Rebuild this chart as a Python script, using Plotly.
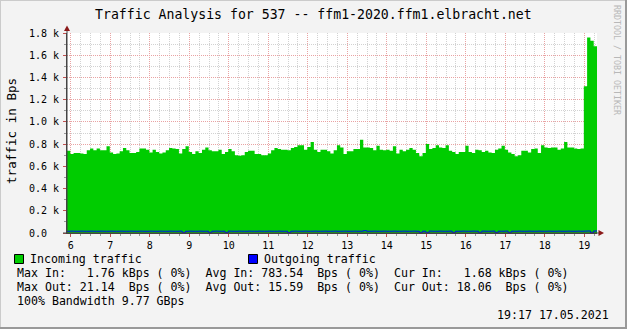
import plotly.graph_objects as go

# ---------------- data ----------------
START_HOUR = 5.904          # left edge of the graph (hours of day)
STEP_HOURS = 5 / 60         # 5-minute samples

incoming_kBps = [
    0.74, 0.71, 0.72, 0.72, 0.715, 0.71, 0.745, 0.76, 0.745, 0.76,
    0.745, 0.745, 0.78, 0.725, 0.71, 0.715, 0.735, 0.765, 0.745, 0.72,
    0.72, 0.73, 0.76, 0.76, 0.75, 0.725, 0.75, 0.73, 0.715, 0.725,
    0.745, 0.765, 0.76, 0.755, 0.715, 0.755, 0.78, 0.73, 0.71, 0.735,
    0.72, 0.75, 0.77, 0.745, 0.735, 0.735, 0.75, 0.71, 0.73, 0.755,
    0.735, 0.70, 0.695, 0.70, 0.73, 0.74, 0.74, 0.71, 0.71, 0.70,
    0.70, 0.715, 0.745, 0.765, 0.755, 0.75, 0.75, 0.745, 0.765, 0.775,
    0.79, 0.79, 0.75, 0.775, 0.82, 0.75, 0.73, 0.75, 0.75, 0.735,
    0.715, 0.745, 0.79, 0.77, 0.71, 0.735, 0.735, 0.755, 0.755, 0.84,
    0.77, 0.77, 0.765, 0.745, 0.785, 0.75, 0.745, 0.75, 0.74, 0.78,
    0.715, 0.75, 0.735, 0.75, 0.765, 0.75, 0.72, 0.69, 0.72, 0.80,
    0.755, 0.765, 0.79, 0.77, 0.765, 0.79, 0.74, 0.73, 0.71, 0.73,
    0.73, 0.785, 0.73, 0.72, 0.75, 0.745, 0.73, 0.74, 0.725, 0.72,
    0.75, 0.76, 0.785, 0.75, 0.725, 0.71, 0.69, 0.70, 0.74, 0.74,
    0.725, 0.755, 0.76, 0.72, 0.79, 0.77, 0.765, 0.77, 0.77, 0.75,
    0.76, 0.82, 0.77, 0.77, 0.76, 0.755, 0.76, 1.32, 1.76, 1.73,
    1.68,
]

outgoing_Bps = [
    16, 17, 16, 16, 17, 16, 16, 17, 16, 16,
    17, 16, 16, 17, 16, 16, 17, 16, 16, 17,
    16, 16, 17, 16, 16, 17, 16, 16, 17, 16,
    16, 17, 16, 16, 17, 5, 16, 17, 16, 16,
    17, 16, 16, 5, 16, 17, 16, 16, 5, 17,
    16, 16, 17, 16, 16, 17, 16, 16, 17, 16,
    16, 17, 16, 16, 17, 16, 16, 5, 16, 17,
    16, 16, 17, 16, 16, 17, 16, 16, 17, 16,
    16, 17, 16, 16, 17, 16, 16, 17, 16, 16,
    21, 16, 16, 17, 16, 16, 17, 16, 16, 17,
    16, 16, 17, 16, 16, 17, 16, 5, 16, 5,
    17, 16, 16, 17, 16, 16, 17, 5, 16, 16,
    17, 16, 16, 17, 16, 5, 17, 16, 16, 17,
    5, 16, 16, 17, 5, 16, 16, 17, 16, 16,
    17, 16, 16, 17, 16, 16, 17, 16, 16, 17,
    16, 16, 17, 16, 16, 17, 16, 17, 18, 5,
    18.06,
]

hour_ticks = list(range(6, 20))
hour_labels = [str(h) for h in hour_ticks]
y_ticks = [0.0, 0.2, 0.4, 0.6, 0.8, 1.0, 1.2, 1.4, 1.6, 1.8]
y_labels = ["0.0\u00a0\u00a0", "0.2 k", "0.4 k", "0.6 k", "0.8 k",
            "1.0 k", "1.2 k", "1.4 k", "1.6 k", "1.8 k"]

title_text = "Traffic Analysis for 537 -- ffm1-2020.ffm1.elbracht.net"
y_title = "traffic in Bps"
legend_in = "Incoming traffic"
legend_out = "Outgoing traffic"
stat_lines = [
    "Max In:   1.76 kBps ( 0%)  Avg In: 783.54  Bps ( 0%)  Cur In:   1.68 kBps ( 0%)",
    "Max Out: 21.14  Bps ( 0%)  Avg Out: 15.59  Bps ( 0%)  Cur Out: 18.06  Bps ( 0%)",
    "100% Bandwidth 9.77 GBps",
]
timestamp = "19:17 17.05.2021"
watermark = "RRDTOOL / TOBI OETIKER"

# ---------------- figure ----------------
W, H = 627, 329
L, R, T, B = 67, 30, 33, 96
PW, PH = W - L - R, H - T - B
MONO = "DejaVu Sans Mono"


def px(x):
    return (x - L) / PW


def py(y):
    return (H - B - y) / PH


n = len(incoming_kBps)
times = [START_HOUR + i * STEP_HOURS for i in range(n + 1)]
inc = incoming_kBps + [incoming_kBps[-1]]
out = [v / 1000 for v in outgoing_Bps] + [outgoing_Bps[-1] / 1000]

fig = go.Figure()
fig.add_trace(go.Scatter(
    x=times, y=inc, mode="lines", line=dict(width=0, shape="hv", color="#00CC00"),
    fill="tozeroy", fillcolor="#00CC00", showlegend=False, hoverinfo="skip"))
fig.add_trace(go.Scatter(
    x=times, y=out, mode="lines", line=dict(width=1, shape="hv", color="#0000FF"),
    showlegend=False, hoverinfo="skip"))

MAJOR_GRID = "#e9a3a3"
MINOR_GRID = "#d2d2d2"

fig.update_xaxes(
    range=[START_HOUR, START_HOUR + n * STEP_HOURS],
    tickmode="array", tickvals=hour_ticks, ticktext=hour_labels,
    showgrid=True, gridcolor=MAJOR_GRID, griddash="1px,1px", gridwidth=1,
    ticks="outside", ticklen=3, tickcolor="#c05050", tickwidth=1,
    minor=dict(tick0=6, dtick=0.25, showgrid=True, gridcolor=MINOR_GRID,
               griddash="1px,1px", ticks="outside", ticklen=2, tickcolor="#999999"),
    showline=True, linecolor="#444444", linewidth=1,
    zeroline=False, tickfont=dict(family=MONO, size=10, color="#000"),
    fixedrange=True,
)
fig.update_yaxes(
    range=[0, 1.8],
    tickmode="array", tickvals=y_ticks, ticktext=y_labels,
    showgrid=True, gridcolor=MAJOR_GRID, griddash="1px,1px", gridwidth=1,
    ticks="outside", ticklen=3, tickcolor="#c05050", tickwidth=1,
    minor=dict(tick0=0, dtick=0.1, showgrid=True, gridcolor=MINOR_GRID,
               griddash="1px,1px", ticks="outside", ticklen=2, tickcolor="#999999"),
    showline=True, linecolor="#444444", linewidth=1,
    zeroline=False, tickfont=dict(family=MONO, size=10, color="#000"),
    ticklabelstandoff=2,
    fixedrange=True,
)

shapes = []
# frame of the image
shapes.append(dict(type="line", xref="paper", yref="paper", x0=px(0), x1=px(W), y0=py(0.5), y1=py(0.5),
                   line=dict(color="#cbcbcb", width=1)))
shapes.append(dict(type="line", xref="paper", yref="paper", x0=px(0.5), x1=px(0.5), y0=py(0), y1=py(H),
                   line=dict(color="#cbcbcb", width=1)))
shapes.append(dict(type="line", xref="paper", yref="paper", x0=px(0), x1=px(W), y0=py(H - 1), y1=py(H - 1),
                   line=dict(color="#999999", width=2)))
shapes.append(dict(type="line", xref="paper", yref="paper", x0=px(W - 1), x1=px(W - 1), y0=py(0), y1=py(H),
                   line=dict(color="#999999", width=2)))
# axis extensions and arrows
shapes.append(dict(type="line", xref="paper", yref="paper", x0=px(L), x1=px(L), y0=py(H - B), y1=py(30),
                   line=dict(color="#444444", width=1)))
shapes.append(dict(type="line", xref="paper", yref="paper", x0=px(63), x1=px(600), y0=py(H - B), y1=py(H - B),
                   line=dict(color="#444444", width=1)))
shapes.append(dict(type="path", xref="paper", yref="paper",
                   path=f"M {px(L-3)},{py(31)} L {px(L+3)},{py(31)} L {px(L)},{py(25.5)} Z",
                   fillcolor="#8b1a1a", line=dict(width=0)))
shapes.append(dict(type="path", xref="paper", yref="paper",
                   path=f"M {px(598.5)},{py(230)} L {px(598.5)},{py(236)} L {px(604)},{py(233)} Z",
                   fillcolor="#8b1a1a", line=dict(width=0)))
# legend keys
shapes.append(dict(type="rect", xref="paper", yref="paper", x0=px(14.5), x1=px(23.5), y0=py(254.5), y1=py(263.5),
                   fillcolor="#00CC00", line=dict(color="#000", width=1)))
shapes.append(dict(type="rect", xref="paper", yref="paper", x0=px(248.5), x1=px(257.5), y0=py(254.5), y1=py(263.5),
                   fillcolor="#0000FF", line=dict(color="#000", width=1)))

ann = []


def text(x, y, s, size=11.6, xanchor="left", color="#000", angle=0):
    ann.append(dict(x=px(x), y=py(y), xref="paper", yref="paper", text=s, showarrow=False,
                    xanchor=xanchor, yanchor="middle", textangle=angle, borderpad=0,
                    font=dict(family=MONO, size=size, color=color)))


text(313, 14, title_text, size=13.2, xanchor="center")
text(11, 131, y_title, size=12.6, xanchor="center", angle=-90)
text(617, 60, watermark, size=8.3, xanchor="center", color="#b8b8b8", angle=90)
text(29, 259, legend_in)
text(263, 259, legend_out)
text(16, 273, stat_lines[0])
text(16, 287, stat_lines[1])
text(16, 301, stat_lines[2])
text(610, 315, timestamp, xanchor="right")

fig.update_layout(
    width=W, height=H, autosize=False,
    margin=dict(l=L, r=R, t=T, b=B, pad=0),
    paper_bgcolor="#f3f3f3", plot_bgcolor="#ffffff",
    shapes=shapes, annotations=ann, showlegend=False,
    font=dict(family=MONO, color="#000"),
)

fig.write_html("out.html", config={"displayModeBar": False, "staticPlot": True})
